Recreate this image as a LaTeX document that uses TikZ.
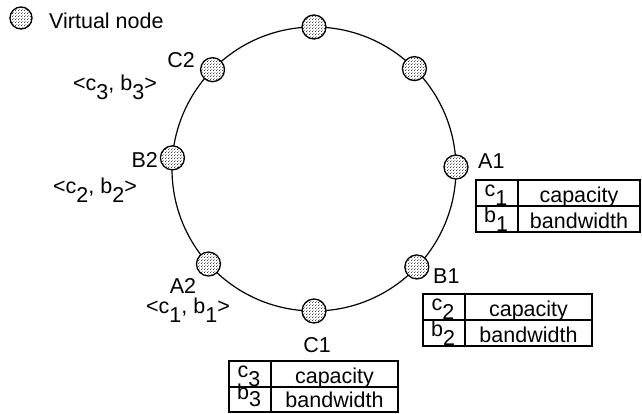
\documentclass[tikz,border=0pt]{standalone}
\usepackage{fontspec}
\setmainfont{Liberation Sans}
\usetikzlibrary{patterns,calc}
% lowered full-size index, as in c_1
\newcommand\lowsub[1]{\raisebox{-0.45em}{#1}}
\newcommand\lowsubs[1]{\raisebox{-0.36em}{#1}}
% dense staggered dot screen for the virtual nodes
\pgfdeclarepatternformonly{vdots}{\pgfqpoint{0pt}{0pt}}{\pgfqpoint{3pt}{3pt}}{\pgfqpoint{3pt}{3pt}}{%
  \pgfpathcircle{\pgfqpoint{0.75pt}{0.75pt}}{0.62pt}%
  \pgfpathcircle{\pgfqpoint{2.25pt}{2.25pt}}{0.62pt}%
  \pgfusepath{fill}}

\begin{document}
\begin{tikzpicture}[x=1pt,y=-1pt,
  every node/.style={font=\fontsize{21.5}{24}\selectfont, inner sep=0pt},
  vnode/.style={circle, draw, line width=1.3pt, minimum size=24pt,
    preaction={fill=white}, pattern=vdots, pattern color=black},
  ring/.style={line width=1.2pt},
  grid/.style={line width=1.3pt},
  lbl/.style={anchor=base}]
\useasboundingbox (0,0) rectangle (642,413);

% the ring
\coordinate (O) at (314,169);
\draw[ring] (O) circle[radius=142pt];

% virtual nodes on the ring
\node[vnode] (t)  at ($(O)+(90:142pt)$) {};
\node[vnode] (tr) at ($(O)+(45:142pt)$) {};
\node[vnode] (a1) at ($(O)+(0.8:142pt)$) {};
\node[vnode] (b1) at ($(O)+(-43.6:142pt)$) {};
\node[vnode] (c1) at ($(O)+(-90:142pt)$) {};
\node[vnode] (a2) at ($(O)+(-138:142pt)$) {};
\node[vnode] (b2) at ($(O)+(175.5:142pt)$) {};
\node[vnode] (c2) at ($(O)+(135.6:142pt)$) {};

% legend
\node[vnode, minimum size=22pt] (leg) at (21,18) {};
\node[anchor=base west] (legtext) at (49,28) {Virtual node};

% labels of the nodes
\node[lbl] (lc2) at (181,67) {C2};
\node[lbl] (pc2) at (115,90) {<c\lowsub{3}, b\lowsub{3}>};
\node[anchor=base east] (lb2) at (158,167) {B2};
\node[lbl] (pb2) at (95,193) {<c\lowsub{2}, b\lowsub{2}>};
\node[anchor=base west] (la1) at (478,168) {A1};
\node[anchor=base west] (lb1) at (433,283) {B1};
\node[lbl] (la2) at (183,293) {A2};
\node[lbl] (pa2) at (188,313) {<c\lowsub{1}, b\lowsub{1}>};
\node[lbl] (lc1) at (317,352) {C1};

% tables: capacity / bandwidth
\draw[grid] (476,180) rectangle (640,232);
\draw[grid] (476,206) -- (640,206) (518,180) -- (518,232);
\node[lbl] (ta1c) at (496,196) {c\lowsub{1}};
\node[lbl] (ta1b) at (496,222) {b\lowsub{1}};
\node[lbl] (ta1cap) at (579,202) {capacity};
\node[lbl] (ta1bw) at (579,228) {bandwidth};

\draw[grid] (423,294) rectangle (592,346);
\draw[grid] (423,320) -- (592,320) (465,294) -- (465,346);
\node[lbl] (tb1c) at (443,310) {c\lowsub{2}};
\node[lbl] (tb1b) at (443,336) {b\lowsub{2}};
\node[lbl] (tb1cap) at (528.5,316) {capacity};
\node[lbl] (tb1bw) at (528.5,342) {bandwidth};

\draw[grid] (229,361) rectangle (398,412);
\draw[grid] (229,387) -- (398,387) (271,361) -- (271,412);
\node[lbl] (tc1c) at (249,377) {c\lowsub{3}};
\node[lbl] (tc1b) at (249,399) {b\lowsubs{3}};
\node[lbl] (tc1cap) at (334.5,383) {capacity};
\node[lbl] (tc1bw) at (334.5,407) {bandwidth};
\end{tikzpicture}
\end{document}
